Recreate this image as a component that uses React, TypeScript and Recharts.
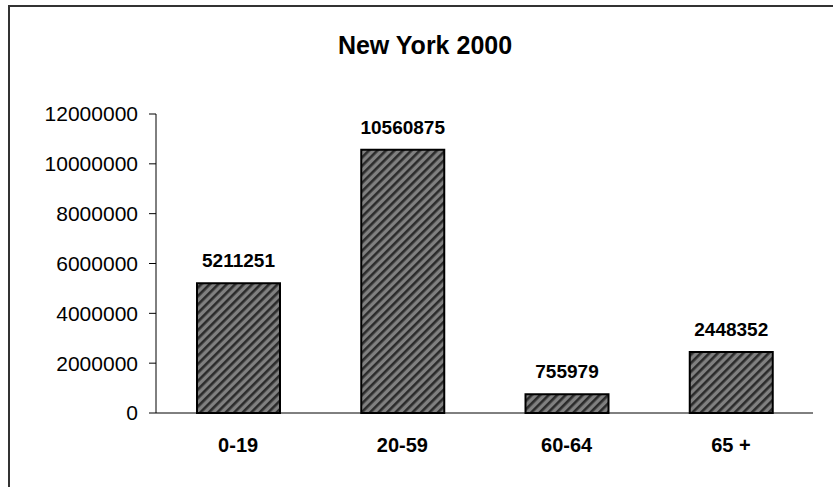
import { BarChart, Bar, XAxis, YAxis, LabelList } from "recharts"

const ageGroups = ["0-19", "20-59", "60-64", "65 +"]
const population = [5211251, 10560875, 755979, 2448352]
const yTicks = [0, 2000000, 4000000, 6000000, 8000000, 10000000, 12000000]

const data = ageGroups.map((group, i) => ({ group, value: population[i] }))

const font = "'Liberation Sans', Arial, sans-serif"

export default function App() {
  return (
    <div style={{ position: "fixed", left: 0, top: 0, width: 833, height: 487, overflow: "hidden", background: "#fff", fontFamily: font }}>
      <div
        style={{
          position: "absolute",
          left: 0,
          width: 850,
          top: 31,
          textAlign: "center",
          fontSize: 25,
          fontWeight: "bold",
          lineHeight: "28px",
          color: "#000",
        }}
      >
        New York 2000
      </div>
      <div style={{ position: "absolute", left: 0, top: 0 }}>
        <BarChart
          width={833}
          height={487}
          data={data}
          margin={{ top: 114, right: 20, bottom: 44, left: 0 }}
          barSize={83}
        >
          <defs>
            <pattern id="hatch" width="6" height="6" patternUnits="userSpaceOnUse" patternTransform="rotate(45)">
              <rect width="6" height="6" fill="#808080" />
              <rect width="2.6" height="6" fill="#2b2b2b" />
            </pattern>
          </defs>
          <XAxis
            dataKey="group"
            height={30}
            tickLine={false}
            tickSize={0}
            tickMargin={25}
            stroke="#000"
            tick={{ fill: "#000", fontSize: 20, fontWeight: "bold", fontFamily: font }}
          />
          <YAxis
            width={156}
            domain={[0, 12000000]}
            ticks={yTicks}
            interval={0}
            tickSize={7}
            tickMargin={11}
            stroke="#000"
            tick={{ fill: "#000", fontSize: 21, fontFamily: font }}
          />
          <Bar dataKey="value" fill="url(#hatch)" stroke="#000" strokeWidth={2} isAnimationActive={false}>
            <LabelList
              dataKey="value"
              position="top"
              offset={16}
              style={{ fill: "#000", fontSize: 19, fontWeight: "bold", fontFamily: font }}
            />
          </Bar>
        </BarChart>
      </div>
      <div
        style={{
          position: "absolute",
          left: 8,
          top: 5,
          width: 840,
          height: 500,
          borderLeft: "2px solid #333",
          borderTop: "2px solid #333",
          pointerEvents: "none",
        }}
      />
    </div>
  )
}
